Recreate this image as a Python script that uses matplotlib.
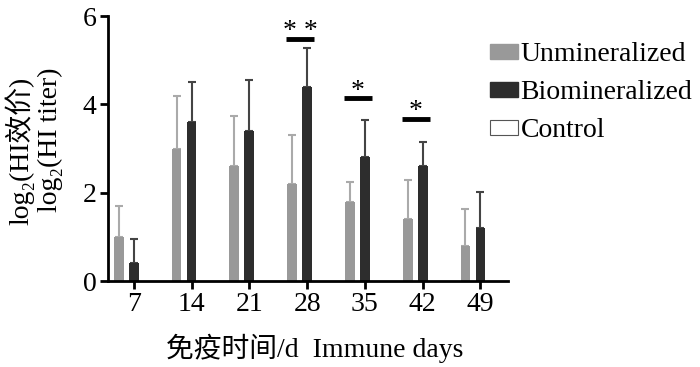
import matplotlib
matplotlib.use("Agg")
import matplotlib.pyplot as plt
from matplotlib.patches import Patch
import numpy as np

days = ["7", "14", "21", "28", "35", "42", "49"]
unmin = [1.0, 3.0, 2.6, 2.2, 1.8, 1.4, 0.8]
unmin_err = [0.7, 1.2, 1.15, 1.1, 0.45, 0.9, 0.83]
biomin = [0.4, 3.6, 3.4, 4.4, 2.8, 2.6, 1.2]
biomin_err = [0.55, 0.9, 1.15, 0.88, 0.84, 0.55, 0.82]
control = [0, 0, 0, 0, 0, 0, 0]
# significance: (group index, line height, label)
sig_idx = [3, 4, 5]
sig_y = [5.48, 4.14, 3.67]
sig_lab = ["* *", "*", "*"]

serif = ["Liberation Serif", "Noto Sans CJK SC"]
plt.rcParams['font.family'] = serif
FS = 20

fig = plt.figure(figsize=(7, 3.67), dpi=100)
ax = fig.add_axes([0.154, 0.234, 0.572, 0.722])

x = np.arange(len(days))
off = 0.26
w = 0.17
gray = "#999999"
dark = "#2d2d2d"
ax.bar(x - off, unmin, w, color=gray, zorder=2)
ax.errorbar(x - off, unmin, yerr=[np.zeros(len(x)), unmin_err], fmt="none",
            ecolor="#aaaaaa", elinewidth=1.5, capsize=3, capthick=1.5, zorder=1)
ax.bar(x, biomin, w, color=dark, zorder=2)
ax.errorbar(x, biomin, yerr=[np.zeros(len(x)), biomin_err], fmt="none",
            ecolor="#444444", elinewidth=1.5, capsize=3, capthick=1.5, zorder=1)
ax.bar(x + off, control, w, color="white", edgecolor="black", linewidth=0, zorder=2)

for i, yv, lab in zip(sig_idx, sig_y, sig_lab):
    ax.plot([i - off - 0.1, i + 0.12], [yv, yv], color="black", lw=3.5,
            solid_capstyle="butt")
    ax.text(i - off / 2 + 0.01, yv - 0.12, lab, ha="center", va="bottom", fontsize=FS,
            family=serif)

ax.set_xlim(-0.45, 6.48)
ax.set_ylim(0, 6)
ax.set_xticks(x)
ax.set_xticklabels(days)
ax.set_yticks([0, 2, 4, 6])
for s in ["top", "right"]:
    ax.spines[s].set_visible(False)
for s in ["left", "bottom"]:
    ax.spines[s].set_linewidth(2)
ax.tick_params(axis="both", width=2, length=6, labelsize=FS, pad=2)

ax.set_xlabel("免疫时间/d  Immune days", fontsize=FS)
ax.xaxis.set_label_coords(0.5175, -0.2)
fig.text(0.028, 0.59, "log\u2082(HI效价)", rotation=90, ha="center", va="center",
         fontsize=FS, family=serif)
fig.text(0.072, 0.62, "log\u2082(HI titer)", rotation=90, ha="center", va="center",
         fontsize=FS, family=serif)

handles = [Patch(facecolor=gray, edgecolor=gray),
           Patch(facecolor=dark, edgecolor=dark),
           Patch(facecolor="white", edgecolor="#555555", linewidth=0.8)]
fig.legend(handles, ["Unmineralized", "Biomineralized", "Control"],
           loc="upper left", bbox_to_anchor=(0.70, 0.885), frameon=False,
           fontsize=20, handlelength=1.0, handleheight=0.45, handletextpad=0.1,
           labelspacing=0.47, borderaxespad=0, borderpad=0)

fig.savefig("out.png", dpi=100)
